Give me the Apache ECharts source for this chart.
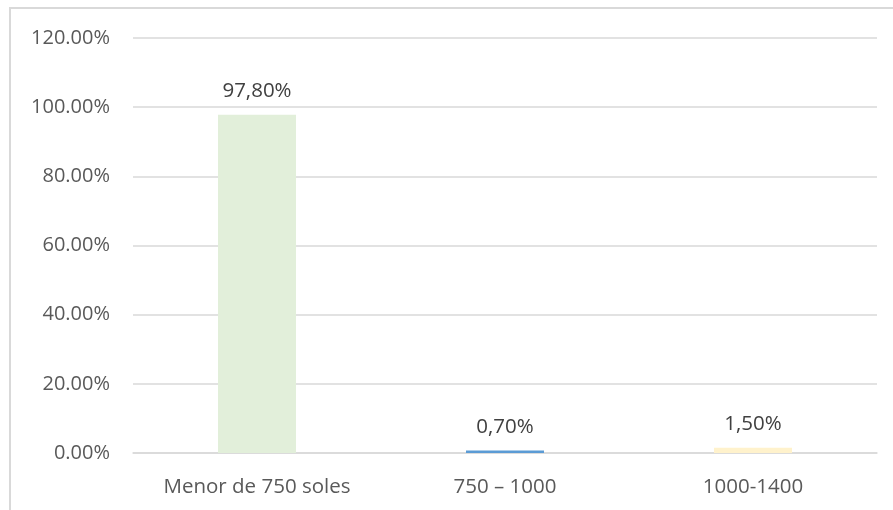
<!DOCTYPE html>
<html>
<head>
<meta charset="utf-8">
<script src="https://cdn.jsdelivr.net/npm/echarts@6/dist/echarts.min.js"></script>
<style>
  html, body { margin: 0; padding: 0; background: #fff; }
  #wrap { position: relative; width: 893px; height: 510px; overflow: hidden; }
  #frame {
    position: absolute; left: 9px; top: 7px; width: 900px; height: 520px;
    border: 2px solid #d9d9d9; box-sizing: border-box;
  }
  #chart { position: absolute; left: 0; top: 0; width: 893px; height: 510px; }
</style>
</head>
<body>
<div id="wrap">
  <div id="frame"></div>
  <div id="chart"></div>
</div>
<script>
const categories = ['Menor de 750 soles', '750 \u2013 1000', '1000-1400']
const values = [97.8, 0.7, 1.5]
const barColors = ['#e2efda', '#5b9bd5', '#fff2cc']
const yTicks = [0, 20, 40, 60, 80, 100, 120]

const chart = echarts.init(document.getElementById('chart'), null, { renderer: 'canvas' })

const font = '"Open Sans", "Liberation Sans", sans-serif'

chart.setOption({
  animation: false,
  backgroundColor: 'transparent',
  grid: { left: 133, right: 16, top: 38, bottom: 57 },
  xAxis: {
    type: 'category',
    data: categories,
    axisLine: { show: true, lineStyle: { color: '#d9d9d9', width: 1.5 } },
    axisTick: { show: false },
    axisLabel: { color: '#595959', fontSize: 20.5, fontFamily: font, margin: 24 },
  },
  yAxis: {
    type: 'value',
    min: yTicks[0],
    max: yTicks[yTicks.length - 1],
    interval: 20,
    axisLine: { show: false },
    axisTick: { show: false },
    axisLabel: {
      color: '#595959', fontSize: 20, fontFamily: font, margin: 23,
      formatter: (v) => v.toFixed(2) + '%',
    },
    splitLine: { lineStyle: { color: '#d9d9d9', width: 1.5 } },
  },
  series: [{
    type: 'bar',
    barWidth: 78,
    data: values.map((v, i) => ({ value: v, itemStyle: { color: barColors[i] } })),
    label: {
      show: true,
      position: 'top',
      distance: 13,
      color: '#404040',
      fontSize: 20.5,
      fontFamily: font,
      formatter: (p) => p.value.toFixed(2).replace('.', ',') + '%',
    },
  }],
})
</script>
</body>
</html>
